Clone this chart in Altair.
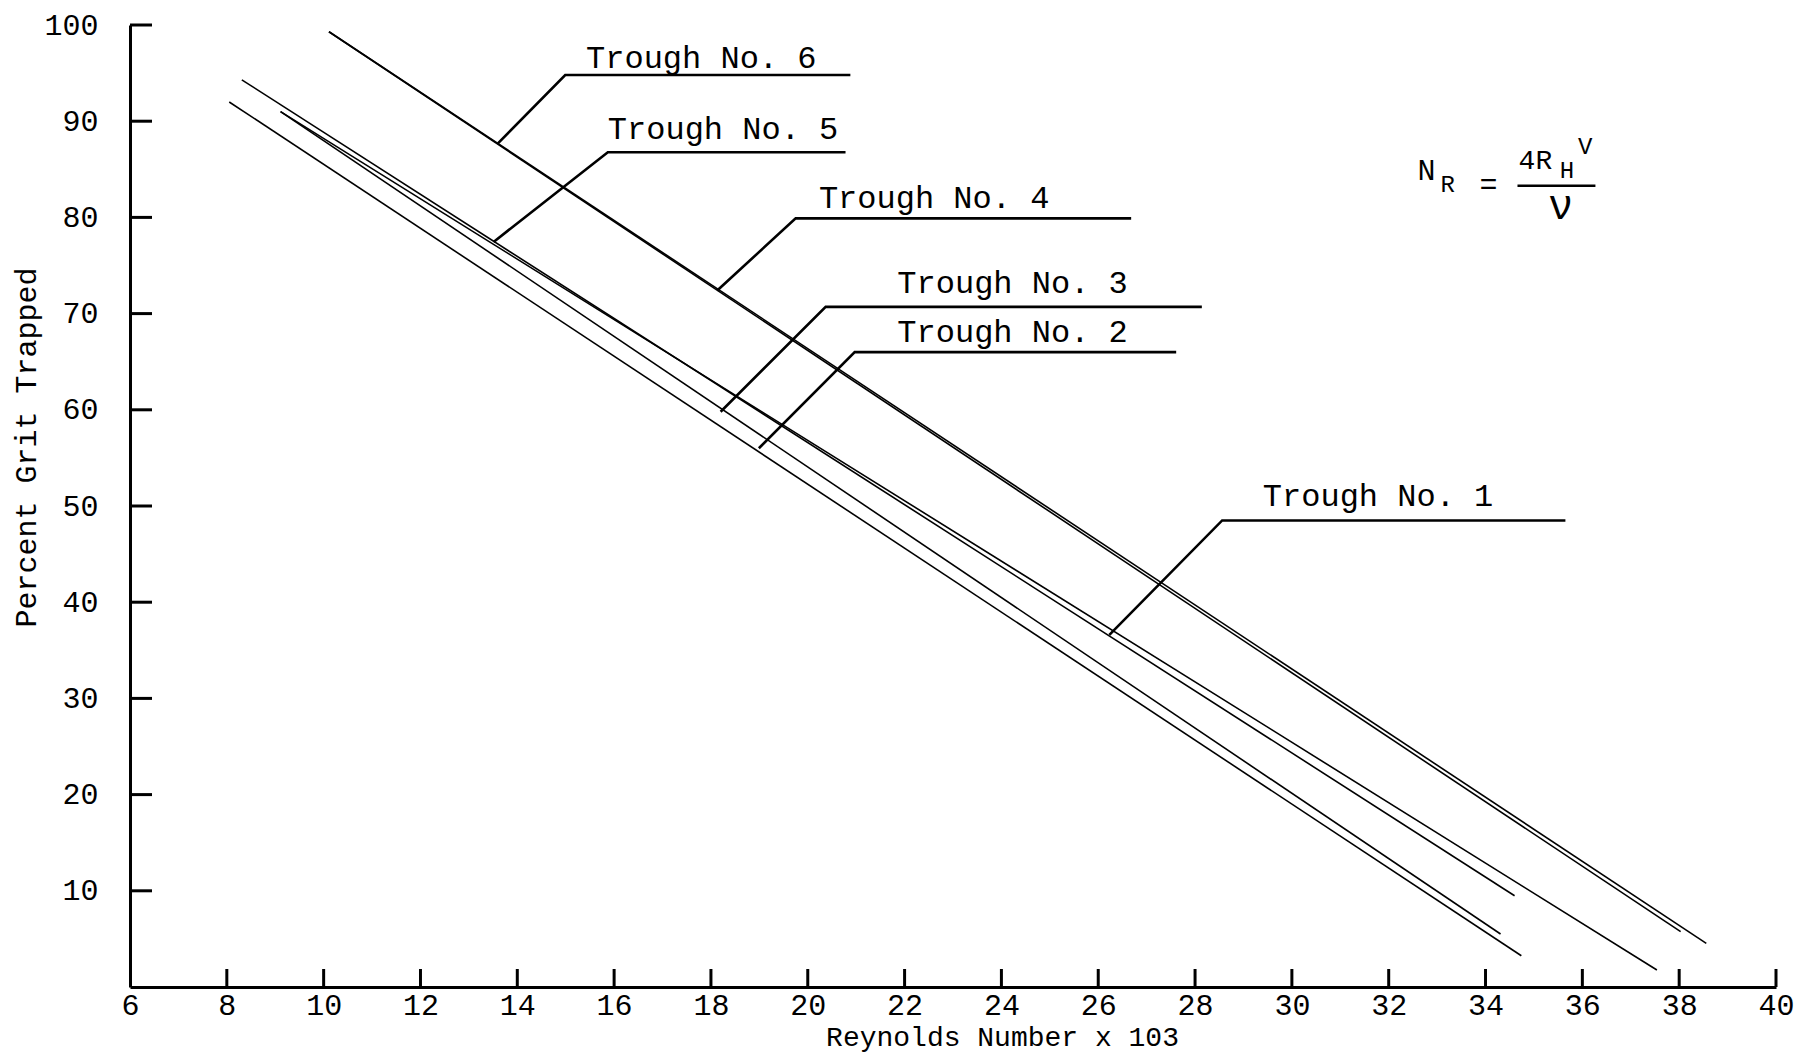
import altair as alt
import pandas as pd

# ---- data ----
troughs = ["Trough No. 1", "Trough No. 2", "Trough No. 3", "Trough No. 4", "Trough No. 5", "Trough No. 6"]
label_text = ["Trough  No. 1", "Trough No. 2", "Trough No. 3", "Trough No. 4", "Trough No. 5", "Trough No. 6"]
line_x_start = [8.31, 8.05, 9.11, 10.11, 9.11, 10.11]
line_y_start = [94.3, 92.0, 91.0, 99.3, 91.0, 99.3]
line_x_end = [34.60, 34.74, 34.31, 38.03, 37.54, 38.56]
line_y_end = [9.49, 3.25, 5.51, 5.75, 1.77, 4.54]

leader_x0 = [26.23, 18.99, 18.20, 18.13, 13.51, 13.60]
leader_y0 = [36.6, 56.0, 59.8, 72.4, 77.45, 87.7]
leader_x1 = [28.56, 20.97, 20.37, 19.75, 15.87, 14.99]
leader_y1 = [48.5, 66.0, 70.7, 79.9, 86.78, 94.8]
leader_x2 = [35.65, 27.61, 28.14, 26.68, 20.78, 20.88]
label_x = [29.40, 21.85, 21.85, 20.23, 15.87, 15.42]
label_y = [51.0, 68.1, 73.2, 82.0, 89.2, 96.6]

x_ticks = [6, 8, 10, 12, 14, 16, 18, 20, 22, 24, 26, 28, 30, 32, 34, 36, 38, 40]
y_ticks = [10, 20, 30, 40, 50, 60, 70, 80, 90, 100]

formula_text = ["N", "R", "=", "4R", "H", "V", "ν"]
formula_x = [32.78, 33.22, 34.06, 35.03, 35.68, 36.06, 35.55]
formula_y = [84.8, 83.4, 83.4, 85.9, 84.8, 87.3, 81.2]
formula_size = [30, 24, 30, 28, 24, 24, 42]
bar_x = [34.66]
bar_x2 = [36.27]
bar_y = [83.3]

FONT = "Liberation Mono"
W, H = 1646, 962

# ---- tables ----
lines = pd.DataFrame({
    "trough": troughs * 2,
    "x": line_x_start + line_x_end,
    "y": line_y_start + line_y_end,
    "o": [0] * 6 + [1] * 6,
})
leaders = pd.DataFrame({
    "trough": troughs * 3,
    "x": leader_x0 + leader_x1 + leader_x2,
    "y": leader_y0 + leader_y1 + leader_y1,
    "o": [0] * 6 + [1] * 6 + [2] * 6,
})
labels = pd.DataFrame({"text": label_text, "x": label_x, "y": label_y})
formula = pd.DataFrame({"text": formula_text, "x": formula_x, "y": formula_y, "size": formula_size})
bar = pd.DataFrame({"x": bar_x, "x2": bar_x2, "y": bar_y})
xt = pd.DataFrame({"v": x_ticks[1:]})
yt = pd.DataFrame({"v": y_ticks})

xs = alt.Scale(domain=[6, 40], nice=False, zero=False)
ys = alt.Scale(domain=[0, 100], nice=False, zero=False)

x_axis = alt.Axis(
    values=x_ticks, tickSize=0, grid=False, domainWidth=3, domainColor="black",
    labelFont=FONT, labelFontSize=30, labelColor="black", labelPadding=3,
    labelFlush=False,
    title="Reynolds Number x 103", titleFont=FONT, titleFontSize=28,
    titleFontWeight="normal", titleColor="black", titleX=872, titleY=50,
    titleBaseline="middle",
)
y_axis = alt.Axis(
    values=y_ticks, tickSize=0, grid=False, domainWidth=3, domainColor="black",
    labelFont=FONT, labelFontSize=30, labelColor="black", labelPadding=32,
    labelFlush=False,
    title="Percent Grit Trapped", titleFont=FONT, titleFontSize=30,
    titleFontWeight="normal", titleColor="black", titleX=-104, titleY=422,
    titleBaseline="middle",
)

X = lambda f="x": alt.X(f"{f}:Q", scale=xs, axis=x_axis)
Y = lambda f="y": alt.Y(f"{f}:Q", scale=ys, axis=y_axis)

data_lines = alt.Chart(lines).mark_line(color="black", strokeWidth=1.6).encode(
    x=X(), y=Y(), detail="trough:N", order="o:Q"
)
leader_lines = alt.Chart(leaders).mark_line(color="black", strokeWidth=2.6).encode(
    x=X(), y=Y(), detail="trough:N", order="o:Q"
)
label_marks = alt.Chart(labels).mark_text(
    font=FONT, fontSize=32, align="left", baseline="middle", color="black"
).encode(x=X(), y=Y(), text="text:N")
formula_marks = alt.Chart(formula).mark_text(
    font=FONT, align="center", baseline="middle", color="black"
).encode(x=X(), y=Y(), text="text:N", size=alt.Size("size:Q", scale=None, legend=None))
bar_mark = alt.Chart(bar).mark_rule(color="black", strokeWidth=2.5).encode(
    x=X(), x2="x2:Q", y=Y()
)
x_tick_marks = alt.Chart(xt).mark_rule(color="black", strokeWidth=3).encode(
    x=alt.X("v:Q", scale=xs, axis=x_axis), y=alt.value(H), y2=alt.value(H - 18)
)
y_tick_marks = alt.Chart(yt).mark_rule(color="black", strokeWidth=3).encode(
    y=alt.Y("v:Q", scale=ys, axis=y_axis), x=alt.value(0), x2=alt.value(22)
)

chart = alt.layer(
    data_lines, leader_lines, label_marks, formula_marks, bar_mark, x_tick_marks, y_tick_marks
).properties(
    width=W, height=H,
    autosize=alt.AutoSizeParams(type="none"),
    padding={"left": 122, "top": 17, "right": 20, "bottom": 68},
    background="white",
).configure_view(stroke=None)

chart.save("out.html", embed_options={"renderer": "svg", "actions": False})
